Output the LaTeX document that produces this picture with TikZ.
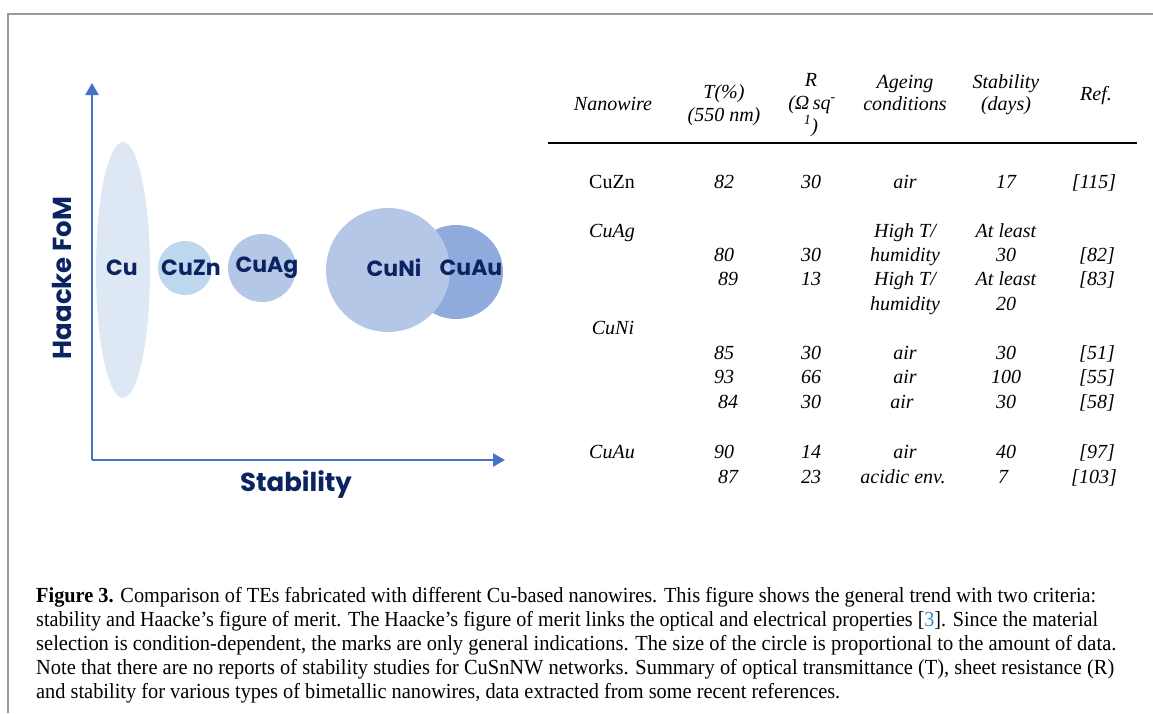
\documentclass[tikz,border=0pt]{standalone}
\usepackage{fontspec}
\usepackage{graphicx}
\setmainfont{Liberation Serif}
\newfontfamily\gothic{Poppins}
\usetikzlibrary{arrows.meta,shapes.geometric}
\definecolor{axisblue}{HTML}{4472C4}
\definecolor{navy}{HTML}{0B2461}
\definecolor{cuC}{HTML}{DEE8F5}
\definecolor{cuznC}{HTML}{BDD7EE}
\definecolor{cuagC}{HTML}{B4C7E7}
\definecolor{cuauC}{HTML}{8FAADC}
\definecolor{framegray}{HTML}{9A9A9A}
\definecolor{reflink}{HTML}{2B8FCB}
\begin{document}
\begin{tikzpicture}[x=1pt,y=-1pt,
  bubble/.style={circle, inner sep=0pt, draw=none},
  blab/.style={font=\gothic\bfseries\fontsize{22}{22}\selectfont, text=navy, inner sep=0pt},
  axlab/.style={font=\gothic\bfseries\fontsize{26}{26}\selectfont, text=navy, inner sep=0pt},
  axis/.style={draw=axisblue, line width=2.5pt, -{Triangle[length=12pt,width=13pt]}},
  tc/.style={font=\fontsize{20}{23}\selectfont\itshape, inner sep=0pt, anchor=base},
  tu/.style={font=\fontsize{20}{23}\selectfont, inner sep=0pt, anchor=base},
  capline/.style={anchor=base west, inner sep=0pt, font=\fontsize{21.5}{24}\selectfont}
]
\useasboundingbox (0,0) rectangle (1153,713);
% frame
\draw[framegray, line width=2pt] (8,713) -- (8,14) -- (1153,14);

% bubbles
\node[ellipse, inner sep=0pt, draw=none, fill=cuC, minimum width=54pt, minimum height=256pt] (cu) at (123,270) {};
\node[bubble, fill=cuznC, minimum size=54pt] (cuzn) at (185,268) {};
\node[bubble, fill=cuagC, minimum size=68pt] (cuag) at (262,268) {};
\node[bubble, fill=cuauC, minimum size=94pt] (cuau) at (456,272) {};
\node[bubble, fill=cuagC, minimum size=124pt] (cuni) at (388,270) {};

\node[blab] (lcu) at (122,268) {Cu};
\node[blab] (lcuzn) at (191,268) {CuZn};
\node[blab] (lcuag) at (267,268) {CuAg};
\node[blab] (lcuni) at (394,268) {CuNi};
\node[blab] (lcuau) at (471,268) {CuAu};

% axes
\coordinate (o) at (92,460);
\coordinate (ytip) at (92,83);
\coordinate (xtip) at (505,460);
\draw[axis] (o) -- (ytip);
\draw[axis] (o) -- (xtip);
\node[axlab, rotate=90] (ylab) at (62,278) {Haacke FoM};
\node[axlab] (xlab) at (296,485) {Stability};

% table header
\node[tc] (h1) at (613,110) {Nanowire};
\node[tc] (h2a) at (724,98) {T(\%)};
\node[tc] (h2b) at (724,121) {(550 nm)};
\node[tc] (h3a) at (811,86) {R};
\node[tc] (h3b) at (812,109) {(Ω\,sq\textsuperscript{-}};
\node[tc] (h3c) at (811,132) {\textsuperscript{1})};
\node[tc] (h4a) at (905,88) {Ageing};
\node[tc] (h4b) at (905,110) {conditions};
\node[tc] (h5a) at (1006,88) {Stability};
\node[tc] (h5b) at (1006,110) {(days)};
\node[tc] (h6) at (1096,100) {Ref.};
\coordinate (rl) at (548,143);
\coordinate (rr) at (1137,143);
\draw[line width=2.2pt] (rl) -- (rr);

% rows
\node[tu] (r1a) at (612,188) {CuZn};
\node[tc] (r1b) at (724,188) {82};
\node[tc] (r1c) at (811,188) {30};
\node[tc] (r1d) at (905,188) {air};
\node[tc] (r1e) at (1006,188) {17};
\node[tc] (r1f) at (1094,188) {[115]};

\node[tc] (r2a) at (612,237) {CuAg};
\node[tc] (r2d) at (905,237) {High T/};
\node[tc] (r2e) at (1006,237) {At least};

\node[tc] (r3b) at (724,261) {80};
\node[tc] (r3c) at (811,261) {30};
\node[tc] (r3d) at (905,261) {humidity};
\node[tc] (r3e) at (1006,261) {30};
\node[tc] (r3f) at (1097,261) {[82]};

\node[tc] (r4b) at (728,285) {89};
\node[tc] (r4c) at (811,285) {13};
\node[tc] (r4d) at (905,285) {High T/};
\node[tc] (r4e) at (1006,285) {At least};
\node[tc] (r4f) at (1097,285) {[83]};

\node[tc] (r5d) at (905,310) {humidity};
\node[tc] (r5e) at (1006,310) {20};

\node[tc] (r6a) at (613,334) {CuNi};

\node[tc] (r7b) at (724,359) {85};
\node[tc] (r7c) at (811,359) {30};
\node[tc] (r7d) at (905,359) {air};
\node[tc] (r7e) at (1006,359) {30};
\node[tc] (r7f) at (1097,359) {[51]};

\node[tc] (r8b) at (724,383) {93};
\node[tc] (r8c) at (811,383) {66};
\node[tc] (r8d) at (905,383) {air};
\node[tc] (r8e) at (1006,383) {100};
\node[tc] (r8f) at (1097,383) {[55]};

\node[tc] (r9b) at (728,408) {84};
\node[tc] (r9c) at (811,408) {30};
\node[tc] (r9d) at (902,408) {air};
\node[tc] (r9e) at (1006,408) {30};
\node[tc] (r9f) at (1097,408) {[58]};

\node[tc] (r10a) at (612,458) {CuAu};
\node[tc] (r10b) at (724,458) {90};
\node[tc] (r10c) at (811,458) {14};
\node[tc] (r10d) at (905,458) {air};
\node[tc] (r10e) at (1006,458) {40};
\node[tc] (r10f) at (1097,458) {[97]};

\node[tc] (r11b) at (728,483) {87};
\node[tc] (r11c) at (811,483) {23};
\node[tc] (r11d) at (903,483) {acidic env.};
\node[tc] (r11e) at (1003,483) {7};
\node[tc] (r11f) at (1094,483) {[103]};

% caption
\node[capline] (c1) at (36,602) {\resizebox{1060pt}{\height}{\textbf{Figure 3.} Comparison of TEs fabricated with different Cu-based nanowires. This figure shows the general trend with two criteria:}};
\node[capline] (c2) at (36,626) {\resizebox{1062pt}{\height}{stability and Haacke’s figure of merit. The Haacke’s figure of merit links the optical and electrical properties [\textcolor{reflink}{3}]. Since the material}};
\node[capline] (c3) at (36,650) {\resizebox{1080pt}{\height}{selection is condition-dependent, the marks are only general indications. The size of the circle is proportional to the amount of data.}};
\node[capline] (c4) at (36,674) {\resizebox{1078pt}{\height}{Note that there are no reports of stability studies for CuSnNW networks. Summary of optical transmittance (T), sheet resistance (R)}};
\node[capline] (c5) at (36,698) {\resizebox{804pt}{\height}{and stability for various types of bimetallic nanowires, data extracted from some recent references.}};
\end{tikzpicture}
\end{document}
